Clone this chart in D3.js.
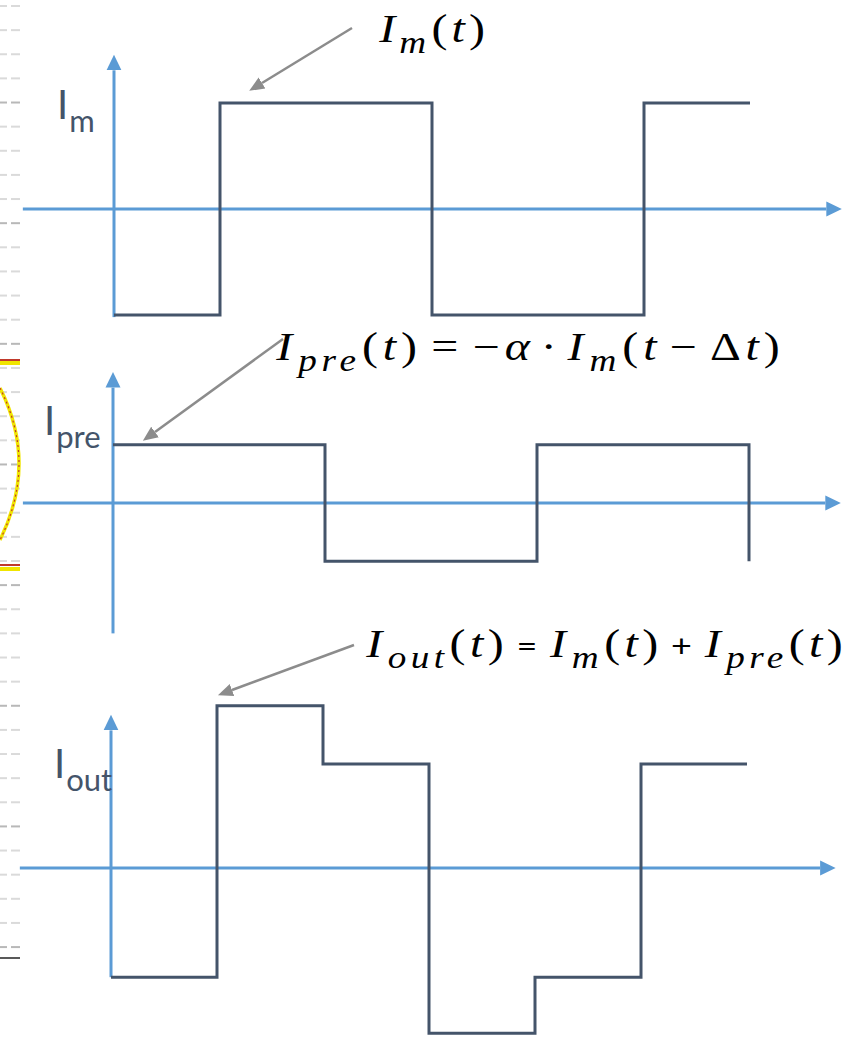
<!DOCTYPE html>
<html>
<head>
<meta charset="utf-8">
<script src="https://cdn.jsdelivr.net/npm/d3@7"></script>
<style>
  body { margin: 0; background: #ffffff; }
  svg { display: block; }
</style>
</head>
<body>
<div id="chart"></div>
<script>
var width = 851, height = 1037;

// time breakpoints (one unit = a quarter period) and level held on each interval
var timeBreaks = [0, 1, 2, 3, 4, 5, 6];
var imLevels   = [-1, 1, 1, -1, -1, 1];
var preLevels  = [0.55, 0.55, -0.55, -0.55, 0.55, 0.55];
var preTail    = -0.55;
var outLevels  = [-1.03, 1.53, 0.98, -1.56, -1.03, 0.98];

var axisColor = "#5b9bd5",
    waveColor = "#44546a",
    noteColor = "#8c8c8c";

var svg = d3.select("#chart").append("svg")
    .attr("width", width)
    .attr("height", height);

// arrow heads
var defs = svg.append("defs");
defs.append("marker")
    .attr("id", "axisHead")
    .attr("markerUnits", "userSpaceOnUse")
    .attr("viewBox", "0 -8 16 16")
    .attr("markerWidth", 16).attr("markerHeight", 16)
    .attr("refX", 0).attr("refY", 0)
    .attr("orient", "auto")
  .append("path")
    .attr("d", "M0,-7.5L15.5,0L0,7.5Z")
    .attr("fill", axisColor);
defs.append("marker")
    .attr("id", "noteHead")
    .attr("markerUnits", "userSpaceOnUse")
    .attr("viewBox", "0 -8 16 16")
    .attr("markerWidth", 16).attr("markerHeight", 16)
    .attr("refX", 0).attr("refY", 0)
    .attr("orient", "auto")
  .append("path")
    .attr("d", "M0,-6.5L15,0L0,6.5Z")
    .attr("fill", noteColor);

// scrap of another slide on the left edge
var edge = svg.append("g").attr("class", "edge");
d3.range(40).forEach(function(i) {
  var y = 6 + i * 24.13;
  var c = (i % 5 === 4) ? "#b8b8b8" : "#dadada";
  edge.append("line").attr("x1", 0).attr("x2", 7).attr("y1", y).attr("y2", y)
      .attr("stroke", c).attr("stroke-width", 2);
  edge.append("line").attr("x1", 11).attr("x2", 20).attr("y1", y).attr("y2", y)
      .attr("stroke", c).attr("stroke-width", 2);
});
edge.append("line").attr("x1", 0).attr("x2", 20).attr("y1", 958).attr("y2", 958)
    .attr("stroke", "#222").attr("stroke-width", 1.5);
[[360, 363], [565, 569]].forEach(function(p) {
  edge.append("line").attr("x1", 0).attr("x2", 20).attr("y1", p[1]).attr("y2", p[1])
      .attr("stroke", "#f0e500").attr("stroke-width", 4);
  edge.append("line").attr("x1", 0).attr("x2", 20).attr("y1", p[0]).attr("y2", p[0])
      .attr("stroke", "#c0392b").attr("stroke-width", 2);
});
edge.append("path").attr("d", "M0,388 Q38,463 0,540")
    .attr("fill", "none").attr("stroke", "#f0e500").attr("stroke-width", 3.5);
edge.append("path").attr("d", "M0,388 Q38,463 0,540")
    .attr("fill", "none").attr("stroke", "#c0392b").attr("stroke-width", 1.2)
    .attr("stroke-dasharray", "2,3");

// one panel per signal
var panels = [
  { levels: imLevels,  tail: null,    zeroY: 209, x0: 114, yTop: 1.45, yBottom: -1.02, xLeft: -0.86, xRight: 6.72,
    label: "I", sub: "m",   lx: 57, ly: 119 },
  { levels: preLevels, tail: preTail, zeroY: 503, x0: 113, yTop: 1.23, yBottom: -1.23, xLeft: -0.85, xRight: 6.72,
    label: "I", sub: "pre", lx: 44, ly: 435 },
  { levels: outLevels, tail: null,    zeroY: 868, x0: 111, yTop: 1.44, yBottom: -1.03, xLeft: -0.86, xRight: 6.69,
    label: "I", sub: "out", lx: 54, ly: 778 }
];

panels.forEach(function(p) {
  var x = d3.scaleLinear().domain([0, 6]).range([p.x0, p.x0 + 636]);
  var y = d3.scaleLinear().domain([-1, 1]).range([p.zeroY + 106, p.zeroY - 106]);
  var g = svg.append("g");

  // time axis
  g.append("line")
      .attr("x1", x(p.xLeft)).attr("x2", x(p.xRight))
      .attr("y1", y(0)).attr("y2", y(0))
      .attr("stroke", axisColor).attr("stroke-width", 3)
      .attr("marker-end", "url(#axisHead)");
  // value axis
  g.append("line")
      .attr("x1", x(0)).attr("x2", x(0))
      .attr("y1", y(p.yBottom)).attr("y2", y(p.yTop) + 15)
      .attr("stroke", axisColor).attr("stroke-width", 3)
      .attr("marker-end", "url(#axisHead)");

  var pts = timeBreaks.map(function(t, i) {
    return [t, p.levels[Math.min(i, p.levels.length - 1)]];
  });
  if (p.tail !== null) pts.push([6, p.tail]);

  var line = d3.line()
      .x(function(d) { return x(d[0]); })
      .y(function(d) { return y(d[1]); })
      .curve(d3.curveStepAfter);

  g.append("path")
      .attr("d", line(pts))
      .attr("fill", "none")
      .attr("stroke", waveColor)
      .attr("stroke-width", 3)
      .attr("stroke-linejoin", "miter");

  var lab = g.append("text")
      .attr("x", p.lx).attr("y", p.ly)
      .attr("font-family", "Lato, 'Open Sans', sans-serif")
      .attr("font-size", 40)
      .attr("fill", waveColor)
      .text(p.label);
  lab.append("tspan")
      .attr("dx", 1).attr("dy", 13)
      .attr("font-size", 31)
      .text(p.sub);
});

// annotation arrows
[[352, 28, 262, 83], [283, 339, 155, 432], [354, 645, 232, 690]].forEach(function(a) {
  svg.append("line")
      .attr("x1", a[0]).attr("y1", a[1]).attr("x2", a[2]).attr("y2", a[3])
      .attr("stroke", noteColor).attr("stroke-width", 2.5)
      .attr("marker-end", "url(#noteHead)");
});

// formulas: set in flowing text, spaced out and lightly stretched to the span seen in the slide
function formula(parts, left, right, baseY) {
  var g = svg.append("g");
  var txt = g.append("text")
      .attr("x", 0).attr("y", 0)
      .attr("font-family", "'Liberation Serif', 'Times New Roman', serif")
      .attr("font-size", 40)
      .attr("fill", "#000");
  var down = 0, nChars = 0;
  parts.forEach(function(d) {
    var shift = d.sub ? 11 : 0;
    txt.append("tspan")
        .attr("dx", d.dx || 0)
        .attr("dy", shift - down)
        .attr("font-style", d.up ? "normal" : "italic")
        .attr("font-size", d.sub ? 31 : (d.size || 40))
        .attr("font-family", d.sans ? "Lato, sans-serif" : null)
        .text(d.t);
    down = shift;
    nChars += d.t.length;
  });
  var k = 1.2;
  var w0 = txt.node().getBBox().width;
  var extra = Math.max(0, ((right - left) / k - w0) / (nChars - 1));
  txt.attr("letter-spacing", extra);
  var box = txt.node().getBBox();
  k = (right - left) / (box.width - extra);
  g.attr("transform", "translate(" + (left - box.x * k) + "," + baseY + ") scale(" + k + ",1)");
}

formula([
  { t: "I" }, { t: "m", sub: true, dx: 1 },
  { t: "(", up: true, dx: 2 }, { t: "t", dx: 1 }, { t: ")", up: true, dx: 1 }
], 378, 485, 42);

formula([
  { t: "I" }, { t: "pre", sub: true, dx: 1 },
  { t: "(", up: true, dx: 1 }, { t: "t" }, { t: ")", up: true },
  { t: "=", up: true, dx: 8 }, { t: "\u2212", up: true, dx: 8 }, { t: "\u03b1" },
  { t: "\u00b7", up: true, dx: 5 }, { t: "I", dx: 5 }, { t: "m", sub: true, dx: 1 },
  { t: "(", up: true, dx: 1 }, { t: "t" }, { t: "\u2212", up: true, dx: 7 },
  { t: "\u0394", up: true, dx: 7 }, { t: "t" }, { t: ")", up: true }
], 275, 780, 360);

formula([
  { t: "I" }, { t: "out", sub: true, dx: 1 },
  { t: "(", up: true, dx: 1 }, { t: "t" }, { t: ")", up: true },
  { t: "=", up: true, sans: true, size: 30, dx: 7 },
  { t: "I", dx: 7 }, { t: "m", sub: true, dx: 1 },
  { t: "(", up: true, dx: 1 }, { t: "t" }, { t: ")", up: true },
  { t: "+", up: true, sans: true, size: 30, dx: 7 },
  { t: "I", dx: 7 }, { t: "pre", sub: true, dx: 1 },
  { t: "(", up: true, dx: 1 }, { t: "t" }, { t: ")", up: true }
], 365, 843, 657);
</script>
</body>
</html>
